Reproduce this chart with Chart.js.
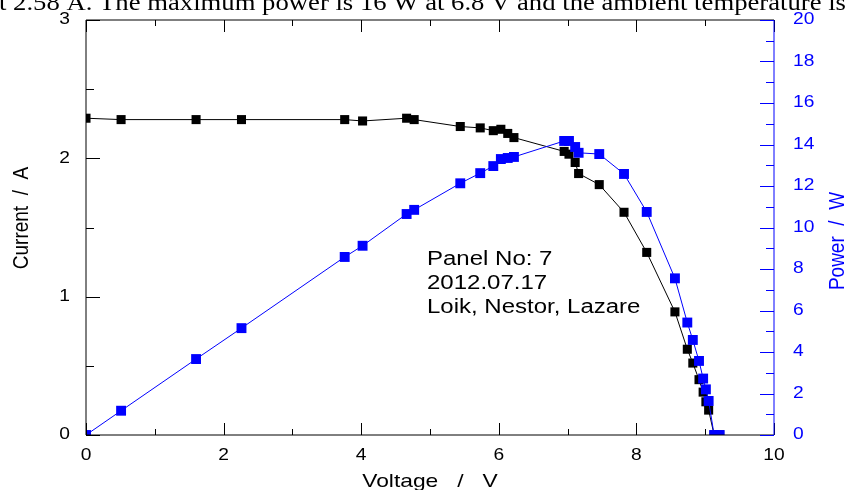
<!DOCTYPE html>
<html>
<head>
<meta charset="utf-8">
<script src="https://cdn.jsdelivr.net/npm/chart.js@4.4.1/dist/chart.umd.min.js"></script>
<style>
  html, body { margin: 0; padding: 0; background: #fff; }
  #wrap { width: 845px; height: 490px; position: relative; }
</style>
</head>
<body>
<div id="wrap"><canvas id="ivChart"></canvas></div>
<script>

// values
var voltage = [0, 0.51, 1.60, 2.26, 3.76, 4.02, 4.66, 4.77, 5.44, 5.73, 5.92, 6.03, 6.13, 6.22, 6.95, 7.02, 7.11, 7.16, 7.46, 7.82, 8.15, 8.56, 8.74, 8.82, 8.91, 8.97, 9.01, 9.05, 9.13, 9.21];
var current = [2.29, 2.28, 2.28, 2.28, 2.28, 2.27, 2.29, 2.28, 2.23, 2.22, 2.20, 2.21, 2.18, 2.15, 2.05, 2.03, 1.97, 1.89, 1.81, 1.61, 1.32, 0.89, 0.62, 0.52, 0.40, 0.31, 0.24, 0.18, 0.00, 0.00];
var power = [0.00, 1.17, 3.66, 5.15, 8.58, 9.12, 10.65, 10.85, 12.13, 12.62, 12.96, 13.30, 13.35, 13.40, 14.17, 14.17, 13.88, 13.60, 13.54, 12.58, 10.75, 7.55, 5.42, 4.58, 3.57, 2.72, 2.20, 1.64, 0.00, 0.00];

var xTicks = [0, 2, 4, 6, 8, 10];
var currentTicks = [0, 1, 2, 3];
var powerTicks = [0, 2, 4, 6, 8, 10, 12, 14, 16, 18, 20];

var headerText = "t 2.58 A. The maximum power is 16 W at 6.8 V and the ambient temperature is";
var noteLines = ["Panel No: 7", "2012.07.17", "Loik, Nestor, Lazare"];

var blue = "#0000ff";
var stretch = 1.2; // the original picture is a bit wider than tall

function toPoints(xs, ys) {
    var pts = [];
    for (var i = 0; i < xs.length; i++) {
        pts.push({ x: xs[i], y: ys[i] });
    }
    return pts;
}

// draw text squeezed sideways like the scanned original
function wideText(ctx, text, x, y, align) {
    ctx.save();
    ctx.translate(x, y);
    ctx.scale(stretch, 1);
    ctx.textAlign = align;
    ctx.fillText(text, 0, 0);
    ctx.restore();
}

var frameAndText = {
    id: "frameAndText",
    afterDraw: function (chart) {
        var ctx = chart.ctx;
        var a = chart.chartArea;
        var sx = chart.scales.x;
        var sy = chart.scales.y;
        var sp = chart.scales.y2;
        var v, px;

        ctx.save();
        ctx.lineWidth = 1;

        // black frame: left, bottom, top
        ctx.strokeStyle = "#000";
        ctx.beginPath();
        ctx.moveTo(a.left, a.top);
        ctx.lineTo(a.left, a.bottom);
        ctx.lineTo(a.right, a.bottom);
        ctx.moveTo(a.left, a.top);
        ctx.lineTo(a.right, a.top);
        ctx.stroke();

        // x ticks, inward, top and bottom
        ctx.beginPath();
        for (v = 0; v <= 10; v += 1) {
            px = Math.round(sx.getPixelForValue(v)) + 0.5;
            var len = (v % 2 === 0) ? 12 : 6;
            ctx.moveTo(px, a.bottom);
            ctx.lineTo(px, a.bottom - len);
            ctx.moveTo(px, a.top);
            ctx.lineTo(px, a.top + len);
        }
        // current ticks
        for (v = 0; v <= 3; v += 0.5) {
            px = Math.round(sy.getPixelForValue(v)) + 0.5;
            ctx.moveTo(a.left, px);
            ctx.lineTo(a.left + (v % 1 === 0 ? 14 : 8), px);
        }
        ctx.stroke();

        // blue power axis on the right
        ctx.strokeStyle = blue;
        ctx.beginPath();
        ctx.moveTo(a.right, a.top);
        ctx.lineTo(a.right, a.bottom);
        for (v = 0; v <= 20; v += 1) {
            px = Math.round(sp.getPixelForValue(v)) + 0.5;
            ctx.moveTo(a.right, px);
            ctx.lineTo(a.right - (v % 2 === 0 ? 14 : 8), px);
        }
        ctx.stroke();

        // tick labels
        ctx.font = "16px 'Liberation Sans', Arial, sans-serif";
        ctx.textBaseline = "middle";
        ctx.fillStyle = "#000";
        xTicks.forEach(function (t) {
            wideText(ctx, String(t), sx.getPixelForValue(t), 456, "center");
        });
        currentTicks.forEach(function (t) {
            wideText(ctx, String(t), a.left - 16, sy.getPixelForValue(t), "right");
        });
        ctx.fillStyle = blue;
        powerTicks.forEach(function (t) {
            wideText(ctx, String(t), a.right + 19, sp.getPixelForValue(t), "left");
        });

        // axis titles
        ctx.font = "19px 'Liberation Sans', Arial, sans-serif";
        ctx.fillStyle = "#000";
        wideText(ctx, "Voltage   /   V", (a.left + a.right) / 2, 482, "center");

        ctx.save();
        ctx.translate(22, 218);
        ctx.rotate(-Math.PI / 2);
        ctx.scale(1, stretch);
        ctx.textAlign = "center";
        ctx.fillText("Current  /  A", 0, 0);
        ctx.restore();

        ctx.save();
        ctx.fillStyle = blue;
        ctx.translate(838, 241);
        ctx.rotate(-Math.PI / 2);
        ctx.scale(1, stretch);
        ctx.textAlign = "center";
        ctx.fillText("Power  /  W", 0, 0);
        ctx.restore();

        // note inside the plot
        ctx.font = "20px 'Liberation Sans', Arial, sans-serif";
        ctx.textBaseline = "alphabetic";
        ctx.fillStyle = "#000";
        for (var i = 0; i < noteLines.length; i++) {
            wideText(ctx, noteLines[i], 427, 265 + i * 24, "left");
        }

        // cut-off sentence from the page above the figure
        ctx.font = "23px 'Liberation Serif', 'Times New Roman', serif";
        var w = ctx.measureText(headerText).width;
        ctx.save();
        ctx.translate(-1, 10);
        ctx.scale(847 / w, 1);
        ctx.textAlign = "left";
        ctx.fillText(headerText, 0, 0);
        ctx.restore();

        ctx.restore();
    }
};

var ctx = document.getElementById("ivChart").getContext("2d");
var chart = new Chart(ctx, {
    type: "scatter",
    data: {
        datasets: [{
            label: "Power",
            data: toPoints(voltage, power),
            yAxisID: "y2",
            showLine: true,
            borderColor: blue,
            backgroundColor: blue,
            borderWidth: 1,
            pointStyle: "rect",
            pointRadius: 7,
            pointBorderWidth: 0,
            pointBackgroundColor: blue
        }, {
            label: "Current",
            data: toPoints(voltage, current),
            yAxisID: "y",
            showLine: true,
            borderColor: "#000",
            backgroundColor: "#000",
            borderWidth: 1,
            pointStyle: "rect",
            pointRadius: 6.4,
            pointBorderWidth: 0,
            pointBackgroundColor: "#000"
        }]
    },
    options: {
        responsive: true,
        maintainAspectRatio: false,
        animation: false,
        layout: { padding: { top: 20, left: 0, right: 0, bottom: 0 } },
        plugins: {
            legend: { display: false },
            tooltip: { enabled: false }
        },
        scales: {
            x: {
                type: "linear",
                min: 0,
                max: 10,
                grid: { display: false },
                border: { display: false },
                ticks: { display: false },
                afterFit: function (s) { s.height = 55; }
            },
            y: {
                type: "linear",
                position: "left",
                min: 0,
                max: 3,
                grid: { display: false },
                border: { display: false },
                ticks: { display: false },
                afterFit: function (s) { s.width = 86; }
            },
            y2: {
                type: "linear",
                position: "right",
                min: 0,
                max: 20,
                grid: { display: false },
                border: { display: false },
                ticks: { display: false },
                afterFit: function (s) { s.width = 71; }
            }
        }
    },
    plugins: [frameAndText]
});

</script>
</body>
</html>
